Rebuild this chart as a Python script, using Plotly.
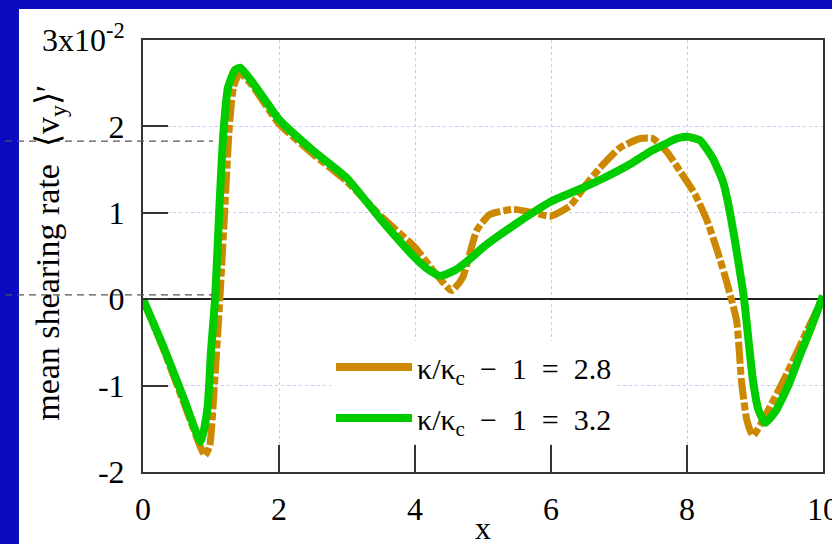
import plotly.graph_objects as go

# ---- data (units of 1e-2) ----
x_green = [0, 0.3, 0.6, 0.85, 0.95, 1.0, 1.06, 1.12, 1.18, 1.25, 1.35, 1.43, 1.6, 1.8, 2.0,
           2.5, 3.0, 3.5, 4.0, 4.2, 4.37, 4.6, 4.86, 5.0, 5.5, 6.0, 6.5, 6.77, 7.2, 7.46,
           7.56, 7.85, 8.0, 8.19, 8.38, 8.53, 8.6, 8.7, 8.8, 8.84, 8.97, 9.05, 9.15, 9.3,
           9.5, 9.66, 9.8, 10.0]
y_green = [0, -0.55, -1.15, -1.65, -1.25, -0.6, 0.0, 1.0, 1.9, 2.45, 2.65, 2.68, 2.52, 2.3, 2.08,
           1.72, 1.40, 0.92, 0.48, 0.34, 0.27, 0.34, 0.50, 0.60, 0.88, 1.13, 1.30, 1.40, 1.58, 1.71,
           1.75, 1.86, 1.88, 1.84, 1.63, 1.36, 1.13, 0.70, 0.21, 0.0, -0.94, -1.28, -1.43, -1.30,
           -0.98, -0.65, -0.38, 0.04]

x_orange = [0, 0.3, 0.6, 0.85, 0.91, 0.98, 1.05, 1.13, 1.2, 1.27, 1.33, 1.42, 1.6, 1.8, 2.0,
            2.5, 3.0, 3.5, 4.0, 4.3, 4.54, 4.7, 4.91, 5.1, 5.44, 5.75, 5.99, 6.28, 6.52, 6.72,
            7.01, 7.31, 7.5, 7.7, 7.9, 8.12, 8.3, 8.45, 8.58, 8.73, 8.8, 8.88, 8.97, 9.17,
            9.47, 9.76, 10.0]
y_orange = [0, -0.58, -1.2, -1.72, -1.81, -1.7, -1.0, 0.0, 1.0, 2.0, 2.45, 2.62, 2.48, 2.25, 2.03,
            1.68, 1.36, 0.96, 0.60, 0.30, 0.10, 0.25, 0.80, 0.98, 1.04, 1.0, 0.96, 1.08, 1.33, 1.52,
            1.75, 1.86, 1.86, 1.71, 1.48, 1.21, 0.90, 0.55, 0.21, -0.25, -0.94, -1.40, -1.58, -1.32,
            -0.86, -0.37, 0.02]

series_names = ["κ/κ<sub>c</sub>\u2002−\u20021\u2002=\u20022.8",
                "κ/κ<sub>c</sub>\u2002−\u20021\u2002=\u20023.2"]
series_colors = ["#cc8800", "#00cc00"]

x_ticks = [0, 2, 4, 6, 8, 10]
y_ticks = [-2, -1, 0, 1, 2, 3]
y_ticktext = ["-2", "-1", "0", "1", "2", "3x10<sup>-2</sup>"]
x_title = "x"
y_title = "mean shearing rate  ⟨v<sub>y</sub>⟩′"
ref_levels = [0.05, 1.83]   # dashed guide levels
ref_x_end = 1.03            # guide lines stop at this x

X_RANGE = [0, 10]
Y_RANGE = [-2, 3]

FONT = "Liberation Serif, Times New Roman, serif"

fig = go.Figure()
fig.add_trace(go.Scatter(x=x_orange, y=y_orange, mode="lines", showlegend=False,
                         line=dict(color=series_colors[0], width=7, dash="22px,3px,8px,3px",
                                   shape="spline", smoothing=0.5)))
fig.add_trace(go.Scatter(x=x_green, y=y_green, mode="lines", showlegend=False,
                         line=dict(color=series_colors[1], width=8, shape="spline", smoothing=0.5)))
# legend entries (solid swatches as in the reference)
for i, (nm, col) in enumerate(zip(series_names, series_colors)):
    fig.add_trace(go.Scatter(x=[None], y=[None], mode="lines", name=nm, legendgroup=str(i),
                             line=dict(color=col, width=8)))

shapes = []
blue = "#0a0ac0"
shapes.append(dict(type="rect", xref="paper", yref="paper", x0=-0.4, x1=-0.1824, y0=-0.5, y1=1.5,
                   fillcolor=blue, line_width=0, layer="below"))
shapes.append(dict(type="rect", xref="paper", yref="paper", x0=-0.4, x1=1.3, y0=1.0718, y1=1.5,
                   fillcolor=blue, line_width=0, layer="below"))
for lv in ref_levels:
    yp = (lv - Y_RANGE[0]) / (Y_RANGE[1] - Y_RANGE[0])
    shapes.append(dict(type="line", xref="paper", yref="paper", x0=-0.203,
                       x1=(ref_x_end - X_RANGE[0]) / (X_RANGE[1] - X_RANGE[0]),
                       y0=yp, y1=yp, line=dict(color="#555555", width=1.3, dash="7px,5px"),
                       layer="above"))

fig.update_layout(
    width=832, height=544,
    margin=dict(l=143, r=9, t=40, b=72),
    paper_bgcolor="white", plot_bgcolor="white",
    font=dict(family=FONT, size=32, color="black"),
    shapes=shapes,
    showlegend=True,
    legend=dict(x=0.2765, y=0.303, xanchor="left", yanchor="top",
                bgcolor="white", font=dict(size=30, family=FONT),
                itemwidth=76, tracegroupgap=9, traceorder="grouped"),
    annotations=[
        dict(text=y_title, xref="paper", yref="paper",
             x=-0.137, y=0.507, xanchor="center", yanchor="middle", textangle=-90,
             showarrow=False, font=dict(size=34, family=FONT)),
        dict(text=x_title, xref="paper", yref="paper",
             x=0.5, y=-0.13, xanchor="center", yanchor="middle",
             showarrow=False, font=dict(size=32, family=FONT)),
    ],
)

fig.update_xaxes(range=X_RANGE, tickvals=x_ticks, ticks="inside", ticklen=27, tickwidth=2,
                 tickcolor="#333", showline=True, linecolor="#333", linewidth=2, mirror=True,
                 showgrid=True, gridcolor="#c8c8ff", griddash="dot", gridwidth=1,
                 zeroline=False, ticklabelstandoff=8, automargin=False, ticklabeloverflow="allow")
fig.update_yaxes(range=Y_RANGE, tickvals=y_ticks, ticktext=y_ticktext, ticks="inside", ticklen=25,
                 tickwidth=2, tickcolor="#333", showline=True, linecolor="#333", linewidth=2,
                 mirror=True, showgrid=True, gridcolor="#c8c8ff", griddash="dot", gridwidth=1,
                 zeroline=True, zerolinecolor="#222", zerolinewidth=2, ticklabelstandoff=10,
                 automargin=False, ticklabeloverflow="allow")

fig.write_html("out.html")
